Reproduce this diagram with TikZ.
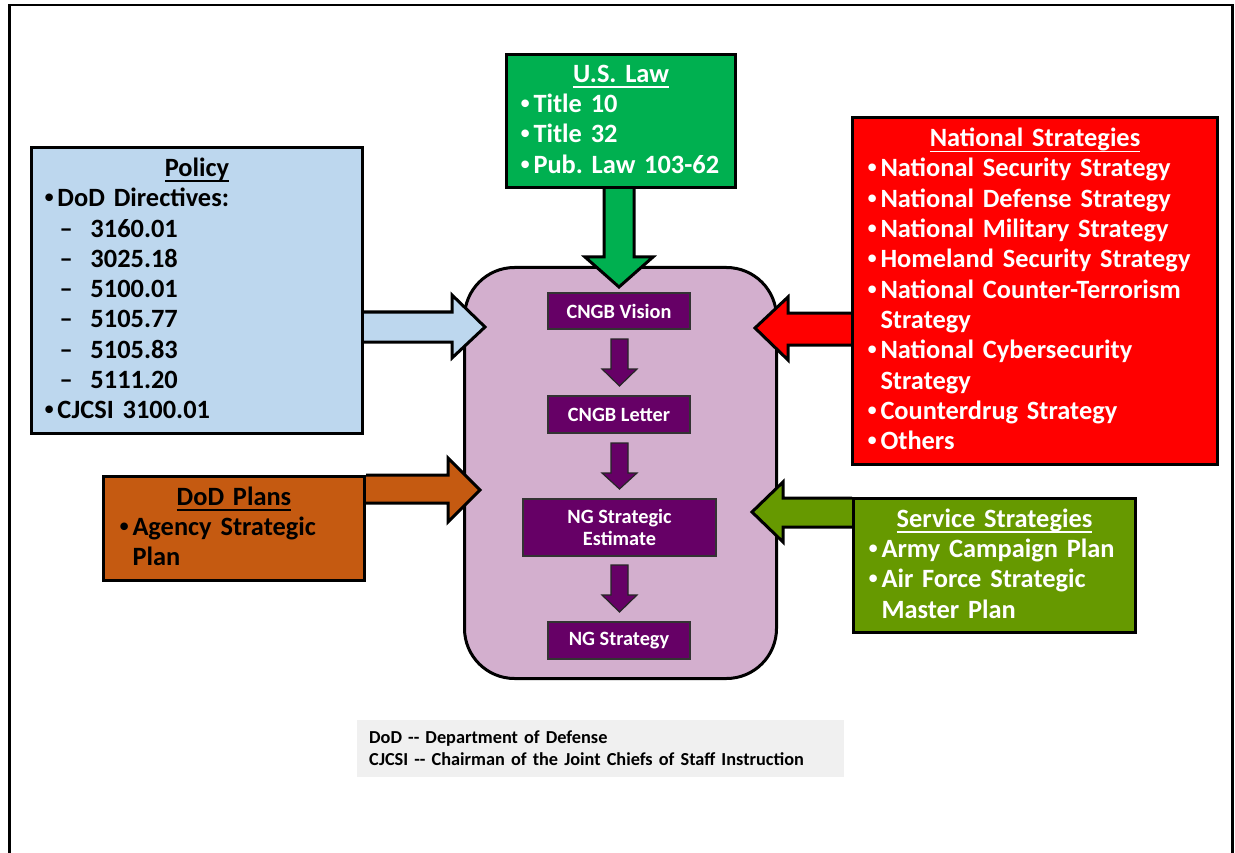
\documentclass[tikz,border=0pt]{standalone}
\usepackage{fontspec}
\setmainfont{Carlito}
\newfontfamily\bulfont{Liberation Sans}
\usetikzlibrary{backgrounds}
\definecolor{polblue}{HTML}{BDD7EE}
\definecolor{lawgreen}{HTML}{00B050}
\definecolor{natred}{HTML}{FF0000}
\definecolor{plansbrown}{HTML}{C55A11}
\definecolor{servgreen}{HTML}{669900}
\definecolor{lavender}{HTML}{D3AFCE}
\definecolor{ngpurple}{HTML}{660066}
\definecolor{legendgray}{HTML}{F0F0F0}
\newcommand\bitem[1]{\mbox{\makebox[13pt][l]{\bulfont •}#1}}
\newcommand\citem[1]{\mbox{\hspace*{13pt}#1}}
\newcommand\dashnum[1]{\mbox{\hspace*{15pt}\makebox[31pt][l]{–}#1}}
\newcommand\myul[1]{\setbox0\hbox{#1}\rlap{\rule[-5.5pt]{\wd0}{1.6pt}}\box0}
\newcommand\boxtitle[1]{\makebox[\hsize]{\myul{#1}}}
\frenchspacing
\begin{document}
\begin{tikzpicture}[x=1pt,y=-1pt,
  boxshape/.style={draw=black, line width=3pt, anchor=north west, inner sep=0pt},
  boxtext/.style={inner sep=0pt, align=left,
    font=\fontsize{26.4}{30.3}\selectfont\bfseries\frenchspacing},
  ngbox/.style={fill=ngpurple, draw=black!80, line width=1.2pt, text=white,
    font=\fontsize{20.3}{22}\selectfont\bfseries, align=center, inner sep=0pt},
  bigarrow/.style={draw=black, line width=3pt, line join=miter},
  smallarrow/.style={fill=ngpurple, draw=black!85, line width=1.2pt, line join=miter}]
\useasboundingbox (0,0) rectangle (1235,853);

% outer frame
\draw[line width=2.5pt, line join=miter] (9.5,870) -- (9.5,5) -- (1232.5,5) -- (1232.5,870);

% source boxes
\node[boxshape, fill=polblue, minimum width=331pt, minimum height=286pt] (policy) at (30,146) {};
\node[boxtext, text width=305pt] (policytxt) at ([yshift=2pt]policy.center)
  {\boxtitle{Policy}\\
   \bitem{DoD Directives:}\\
   \dashnum{3160.01}\\
   \dashnum{3025.18}\\
   \dashnum{5100.01}\\
   \dashnum{5105.77}\\
   \dashnum{5105.83}\\
   \dashnum{5111.20}\\
   \bitem{CJCSI 3100.01}};

\node[boxshape, fill=lawgreen, minimum width=229pt, minimum height=133pt] (law) at (505,53) {};
\node[boxtext, text=white, text width=201pt] (lawtxt) at ([yshift=2pt]law.center)
  {\boxtitle{U.S. Law}\\
   \bitem{Title 10}\\
   \bitem{Title 32}\\
   \bitem{Pub. Law 103-62}};

\node[boxshape, fill=natred, minimum width=365pt, minimum height=347pt] (natl) at (851,116) {};
\node[boxtext, text=white, text width=335pt] (natltxt) at ([yshift=2pt]natl.center)
  {\boxtitle{National Strategies}\\
   \bitem{National Security Strategy}\\
   \bitem{National Defense Strategy}\\
   \bitem{National Military Strategy}\\
   \bitem{Homeland Security Strategy}\\
   \bitem{National Counter-Terrorism}\\
   \citem{Strategy}\\
   \bitem{National Cybersecurity}\\
   \citem{Strategy}\\
   \bitem{Counterdrug Strategy}\\
   \bitem{Others}};

\node[boxshape, fill=plansbrown, minimum width=261pt, minimum height=104pt] (plans) at (102,475) {};
\node[boxtext, text width=229pt] (planstxt) at ([yshift=2pt]plans.center)
  {\boxtitle{DoD Plans}\\
   \bitem{Agency Strategic}\\
   \citem{Plan}};

\node[boxshape, fill=servgreen, minimum width=282pt, minimum height=134pt] (service) at (852,497) {};
\node[boxtext, text=white, text width=252pt] (servicetxt) at ([yshift=2pt]service.center)
  {\boxtitle{Service Strategies}\\
   \bitem{Army Campaign Plan}\\
   \bitem{Air Force Strategic}\\
   \citem{Master Plan}};

\begin{scope}[on background layer]
  \node[draw=black, line width=3pt, fill=lavender, rounded corners=50pt,
    anchor=north west, minimum width=312pt, minimum height=411pt, inner sep=0pt]
    (core) at (463,266) {};
  % block arrows into the core
  \draw[bigarrow, fill=polblue] (policy.east |- 0,312) -- (452,312) -- (452,295)
    -- (485,327) -- (452,358) -- (452,342) -- (policy.east |- 0,342);
  \draw[bigarrow, fill=lawgreen] (law.south -| 604,0) -- (604,257) -- (585,257)
    -- (619,287) -- (653,257) -- (634,257) -- (law.south -| 634,0);
  \draw[bigarrow, fill=natred] (natl.west |- 0,313) -- (788,313) -- (788,297)
    -- (755,328) -- (788,360) -- (788,345) -- (natl.west |- 0,345);
  \draw[bigarrow, fill=plansbrown] (plans.east |- 0,475) -- (448,475) -- (448,458)
    -- (480,490) -- (448,522) -- (448,503) -- (plans.east |- 0,503);
  \draw[bigarrow, fill=servgreen] (service.west |- 0,498) -- (783,498) -- (783,482)
    -- (752,512) -- (783,542) -- (783,527) -- (service.west |- 0,527);
\end{scope}

% inner process boxes
\node[ngbox, minimum width=142pt, minimum height=36pt] (vision) at (619,311) {CNGB Vision};
\node[ngbox, minimum width=142pt, minimum height=37pt] (letter) at (619,414.5) {CNGB Letter};
\node[ngbox, minimum width=193pt, minimum height=57pt] (estimate) at (619.5,527.5) {NG Strategic\\Estimate};
\node[ngbox, minimum width=142pt, minimum height=37pt] (ngstrat) at (619,640.5) {NG Strategy};

\draw[smallarrow] (611,339) -- (611,369) -- (602,369) -- (619.5,386) -- (637,369) -- (628,369) -- (628,339) -- cycle;
\draw[smallarrow] (611,443) -- (611,473) -- (602,473) -- (619.5,489) -- (637,473) -- (628,473) -- (628,443) -- cycle;
\draw[smallarrow] (611,565) -- (611,595) -- (602,595) -- (619.5,612) -- (637,595) -- (628,595) -- (628,565) -- cycle;

% legend
\node[fill=legendgray, anchor=north west, minimum width=487pt, minimum height=57pt,
  inner xsep=12pt, inner ysep=0pt, text width=463pt, align=left,
  font=\fontsize{18.3}{22}\selectfont\bfseries] (legend) at (357,720)
  {DoD -{}- Department of Defense\\
   CJCSI -{}- Chairman of the Joint Chiefs of Staff Instruction};
\end{tikzpicture}
\end{document}
